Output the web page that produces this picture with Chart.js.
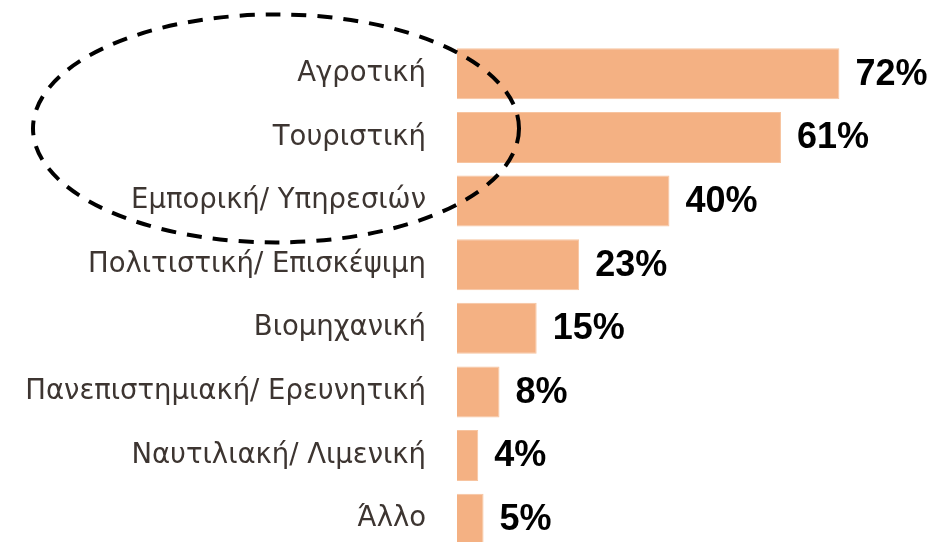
<!DOCTYPE html>
<html>
<head>
<meta charset="utf-8">
<script src="https://cdn.jsdelivr.net/npm/chart.js@4"></script>
<style>
  html, body { margin: 0; padding: 0; background: #fff; overflow: hidden; }
  #wrap { width: 935px; height: 542px; overflow: hidden; }
  #box { position: relative; width: 935px; height: 551px; }
</style>
</head>
<body>
<div id="wrap"><div id="box"><canvas id="chart"></canvas></div></div>
<script>
// -----------------------------
// Data
// -----------------------------
const categories = [
  "Αγροτική",
  "Τουριστική",
  "Εμπορική/ Υπηρεσιών",
  "Πολιτιστική/ Επισκέψιμη",
  "Βιομηχανική",
  "Πανεπιστημιακή/ Ερευνητική",
  "Ναυτιλιακή/ Λιμενική",
  "Άλλο"
];
const shares = [72, 61, 40, 23, 15, 8, 4, 5];

// -----------------------------
// Value labels at the bar ends
// -----------------------------
const valueLabels = {
  id: "valueLabels",
  afterDatasetsDraw(chart) {
    const ctx = chart.ctx;
    const meta = chart.getDatasetMeta(0);
    ctx.save();
    ctx.font = "bold 36px 'Liberation Sans', Arial, sans-serif";
    ctx.fillStyle = "#000";
    ctx.textAlign = "left";
    ctx.textBaseline = "middle";
    meta.data.forEach((bar, i) => {
      ctx.fillText(shares[i] + "%", bar.x + 16, bar.y + 1);
    });
    ctx.restore();
  }
};

// -----------------------------
// Dashed ellipse round the first three categories
// -----------------------------
const highlight = {
  id: "highlight",
  afterDraw(chart) {
    const y = chart.scales.y;
    const x = chart.scales.x;
    const ctx = chart.ctx;
    const cy = (y.getPixelForValue(0) + y.getPixelForValue(2)) / 2 - 9;
    const cx = x.getPixelForValue(0) - 181;
    ctx.save();
    ctx.strokeStyle = "#000";
    ctx.lineWidth = 4;
    ctx.setLineDash([15, 11]);
    ctx.beginPath();
    ctx.ellipse(cx, cy, 243, 114, 0, 0, Math.PI * 2);
    ctx.stroke();
    ctx.restore();
  }
};

const ctx = document.getElementById("chart").getContext("2d");
new Chart(ctx, {
  type: "bar",
  data: {
    labels: categories,
    datasets: [{
      data: shares,
      backgroundColor: "#f4b183",
      borderColor: "#f7c4a0",
      borderWidth: 1,
      barPercentage: 0.8,
      categoryPercentage: 1
    }]
  },
  options: {
    indexAxis: "y",
    responsive: true,
    maintainAspectRatio: false,
    animation: false,
    layout: { padding: { top: 42, right: 0, bottom: 0, left: 0 } },
    plugins: { legend: { display: false }, tooltip: { enabled: false } },
    scales: {
      x: { display: false, min: 0, max: 90 },
      y: {
        // fixed axis width; drop the label padding above/below the plot
        afterFit(scale) {
          scale.width = 457;
          scale.paddingTop = 0;
          scale.paddingBottom = 0;
        },
        grid: { display: false, drawTicks: false },
        border: { display: false },
        ticks: {
          padding: 31,
          color: "#3d3531",
          font: { family: "'DejaVu Sans', Verdana, sans-serif", size: 27.5 }
        }
      }
    }
  },
  plugins: [valueLabels, highlight]
});
</script>
</body>
</html>
